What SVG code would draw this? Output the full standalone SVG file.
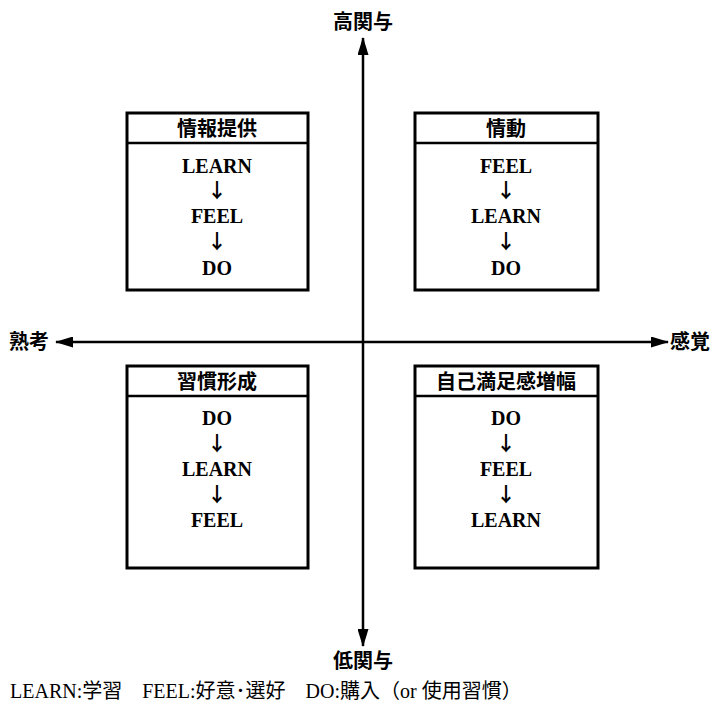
<svg xmlns="http://www.w3.org/2000/svg" width="713" height="704" viewBox="0 0 713 704">
<style>
.box{fill:#fff;stroke:#000;stroke-width:3}
.hl{stroke:#000;stroke-width:2.5}
.ttl{font-family:"Noto Sans CJK JP",sans-serif;font-weight:bold;font-size:20px;text-anchor:middle}
.bd{font-family:"Liberation Serif",serif;font-weight:bold;font-size:20px;text-anchor:middle}
.ar{font-family:"Noto Sans CJK JP",sans-serif;font-weight:bold;font-size:20px;text-anchor:middle}
.ax{font-family:"Noto Sans CJK JP",sans-serif;font-weight:bold;font-size:20px}
.ft{font-family:"Liberation Serif","Noto Sans CJK JP",serif;font-size:20px}
.ln{stroke:#000;stroke-width:2.5;fill:none}
</style>
<defs>
<marker id="ah" markerWidth="18" markerHeight="11" refX="17" refY="5.5" orient="auto" markerUnits="userSpaceOnUse" viewBox="0 0 18 11">
<path d="M0,0 L18,5.5 L0,11 z" fill="#000"/>
</marker>
</defs>
<rect width="713" height="704" fill="#fff"/>
<g id="connectors">
<line class="ln" x1="363" y1="342" x2="363" y2="38" marker-end="url(#ah)"/>
<line class="ln" x1="363" y1="342" x2="363" y2="646" marker-end="url(#ah)"/>
<line class="ln" x1="363" y1="342" x2="56" y2="342" marker-end="url(#ah)"/>
<line class="ln" x1="363" y1="342" x2="668" y2="342" marker-end="url(#ah)"/>
</g>
<g id="label-high"><text class="ax" x="363" y="29" text-anchor="middle">高関与</text></g>
<g id="label-low"><text class="ax" x="363" y="668" text-anchor="middle">低関与</text></g>
<g id="label-left"><text class="ax" x="9" y="349">熟考</text></g>
<g id="label-right"><text class="ax" x="670" y="349">感覚</text></g>
<g id="box-tl">
<rect class="box" x="127" y="113" width="181" height="177"/>
<line class="hl" x1="127" y1="143" x2="308" y2="143"/>
<text class="ttl" x="217" y="136">情報提供</text>
<text class="bd" x="217" y="173">LEARN</text>
<text class="ar" x="217" y="198">↓</text>
<text class="bd" x="217" y="223">FEEL</text>
<text class="ar" x="217" y="249">↓</text>
<text class="bd" x="217" y="275">DO</text>
</g>
<g id="box-tr">
<rect class="box" x="415" y="113" width="183" height="177"/>
<line class="hl" x1="415" y1="143" x2="598" y2="143"/>
<text class="ttl" x="506" y="136">情動</text>
<text class="bd" x="506" y="173">FEEL</text>
<text class="ar" x="506" y="198">↓</text>
<text class="bd" x="506" y="223">LEARN</text>
<text class="ar" x="506" y="249">↓</text>
<text class="bd" x="506" y="275">DO</text>
</g>
<g id="box-bl">
<rect class="box" x="127" y="366" width="181" height="202"/>
<line class="hl" x1="127" y1="396" x2="308" y2="396"/>
<text class="ttl" x="217" y="389">習慣形成</text>
<text class="bd" x="217" y="425">DO</text>
<text class="ar" x="217" y="451">↓</text>
<text class="bd" x="217" y="476">LEARN</text>
<text class="ar" x="217" y="502">↓</text>
<text class="bd" x="217" y="527">FEEL</text>
</g>
<g id="box-br">
<rect class="box" x="415" y="366" width="183" height="202"/>
<line class="hl" x1="415" y1="396" x2="598" y2="396"/>
<text class="ttl" x="506" y="389">自己満足感増幅</text>
<text class="bd" x="506" y="425">DO</text>
<text class="ar" x="506" y="451">↓</text>
<text class="bd" x="506" y="476">FEEL</text>
<text class="ar" x="506" y="502">↓</text>
<text class="bd" x="506" y="527">LEARN</text>
</g>
<g id="legend"><text class="ft" x="10" y="698">LEARN:学習　FEEL:好意<tspan font-family="Noto Sans CJK JP">･</tspan>選好　DO:購入（or 使用習慣）</text></g>
</svg>
